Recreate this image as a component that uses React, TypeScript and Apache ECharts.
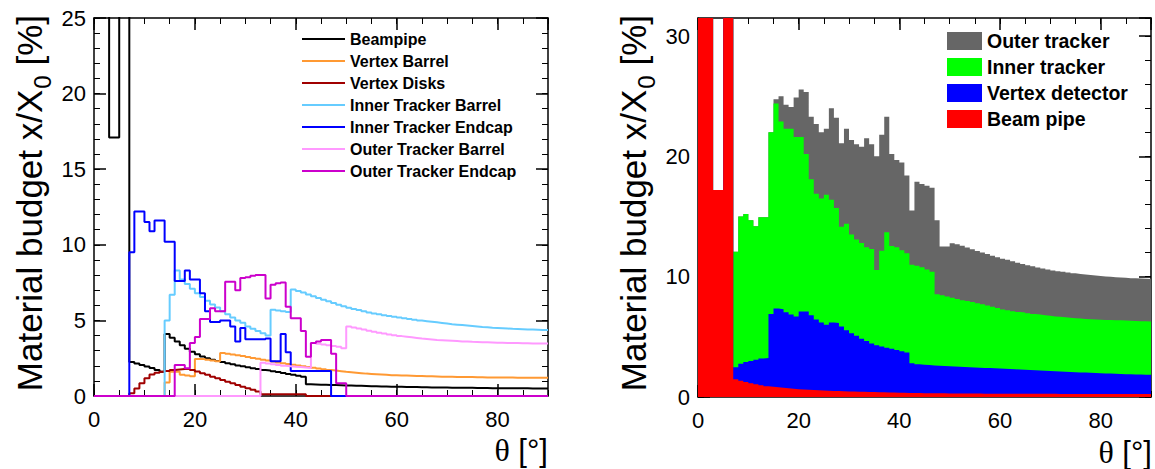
import React, { useEffect, useRef } from 'react';
import * as echarts from 'echarts';

// ---------- DATA (1 degree bins, theta 0..90) ----------
const binEdges = [0, 90];

const leftNames = ['Beampipe', 'Vertex Barrel', 'Vertex Disks', 'Inner Tracker Barrel', 'Inner Tracker Endcap', 'Outer Tracker Barrel', 'Outer Tracker Endcap'];
const leftColors = ['#000000', '#ff9933', '#a00000', '#66ccff', '#0000ff', '#ff99ff', '#cc00cc'];

const beampipe = [
  40, 40, 40, 17.1, 17.1, 40, 40, 2.25, 2.15, 2.05,
  1.95, 1.85, 1.72, 1.6, 4.1, 3.85, 3.6, 3.35, 3.12, 2.92,
  2.76, 2.62, 2.5, 2.4, 2.32, 2.25, 2.17, 2.1, 2.02, 1.96,
  1.9, 1.84, 1.78, 1.72, 1.68, 1.63, 1.58, 1.52, 1.46, 1.4,
  1.34, 1.28, 0.77, 0.76, 0.75, 0.74, 0.73, 0.72, 0.71, 0.7,
  0.69, 0.68, 0.67, 0.66, 0.65, 0.64, 0.63, 0.63, 0.62, 0.61,
  0.61, 0.6, 0.6, 0.59, 0.58, 0.58, 0.57, 0.57, 0.56, 0.56,
  0.55, 0.55, 0.54, 0.54, 0.54, 0.53, 0.53, 0.53, 0.52, 0.52,
  0.52, 0.52, 0.51, 0.51, 0.51, 0.51, 0.5, 0.5, 0.5, 0.5,
];
const vertexBarrel = [
  0, 0, 0, 0, 0, 0, 0, 0, 0, 0,
  0, 0, 0, 0, 0.9, 1.6, 1.6, 1.4, 1.35, 1.3,
  2.45, 2.45, 2.4, 2.35, 2.3, 2.85, 2.8, 2.75, 2.7, 2.64,
  2.58, 2.52, 2.46, 2.4, 2.34, 2.28, 2.22, 2.17, 2.12, 2.07,
  2.02, 1.97, 1.92, 1.87, 1.82, 1.77, 1.72, 1.68, 1.64, 1.6,
  1.57, 1.54, 1.51, 1.48, 1.46, 1.44, 1.42, 1.4, 1.38, 1.37,
  1.36, 1.35, 1.34, 1.33, 1.32, 1.31, 1.3, 1.29, 1.28, 1.27,
  1.27, 1.26, 1.26, 1.25, 1.25, 1.24, 1.24, 1.23, 1.23, 1.23,
  1.22, 1.22, 1.22, 1.21, 1.21, 1.21, 1.21, 1.2, 1.2, 1.2,
];
const vertexDisks = [
  0, 0, 0, 0, 0, 0, 0, 0.18, 0.5, 0.84,
  1.17, 1.43, 1.54, 1.6, 1.66, 1.72, 1.76, 1.78, 1.78, 1.72,
  1.62, 1.5, 1.4, 1.28, 1.17, 1.06, 0.95, 0.84, 0.73, 0.62,
  0.52, 0.42, 0.3, 0.12, 0.12, 0.12, 0.12, 0.12, 0.12, 0.12,
  0.12, 0.12, 0, 0, 0, 0, 0, 0, 0, 0,
  0, 0, 0, 0, 0, 0, 0, 0, 0, 0,
  0, 0, 0, 0, 0, 0, 0, 0, 0, 0,
  0, 0, 0, 0, 0, 0, 0, 0, 0, 0,
  0, 0, 0, 0, 0, 0, 0, 0, 0, 0,
];
const innerBarrel = [
  0, 0, 0, 0, 0, 0, 0, 0, 0, 0,
  0, 0, 0, 0, 5.0, 6.7, 8.3, 7.7, 7.4, 7.1,
  6.8, 6.55, 6.3, 6.05, 5.85, 5.6, 5.4, 5.2, 5.0, 4.85,
  4.6, 4.45, 4.3, 4.15, 4.0, 5.7, 5.65, 5.6, 5.55, 7.05,
  6.95, 6.85, 6.72, 6.6, 6.48, 6.37, 6.26, 6.15, 6.04, 5.94,
  5.84, 5.76, 5.68, 5.6, 5.53, 5.46, 5.4, 5.34, 5.29, 5.24,
  5.19, 5.14, 5.09, 5.04, 4.99, 4.95, 4.91, 4.87, 4.83, 4.79,
  4.75, 4.72, 4.69, 4.66, 4.63, 4.6, 4.57, 4.55, 4.52, 4.5,
  4.48, 4.46, 4.44, 4.43, 4.42, 4.4, 4.39, 4.38, 4.37, 4.36,
];
const innerEndcap = [
  0, 0, 0, 0, 0, 0, 0, 9.5, 12.2, 12.2,
  11.5, 10.9, 11.6, 11.6, 10.2, 10.2, 7.6, 7.6, 8.3, 7.7,
  7.7, 6.8, 5.6, 4.9, 4.9, 5.0, 5.0, 4.6, 3.6, 4.5,
  3.75, 3.75, 3.75, 3.75, 3.8, 2.3, 2.3, 4.1, 2.9, 1.65,
  1.65, 1.65, 1.65, 1.65, 1.65, 1.65, 1.65, 0, 0, 0,
  0, 0, 0, 0, 0, 0, 0, 0, 0, 0,
  0, 0, 0, 0, 0, 0, 0, 0, 0, 0,
  0, 0, 0, 0, 0, 0, 0, 0, 0, 0,
  0, 0, 0, 0, 0, 0, 0, 0, 0, 0,
];
const outerBarrel = [
  0, 0, 0, 0, 0, 0, 0, 0, 0, 0,
  0, 0, 0, 0, 0, 0, 0, 0, 0, 0,
  0, 0, 0, 0, 0, 0, 0, 0, 0, 0,
  0, 0, 0, 2.2, 2.15, 2.1, 2.05, 2.0, 1.97, 1.94,
  1.91, 1.88, 1.85, 3.5, 3.45, 3.4, 3.35, 3.3, 3.25, 3.15,
  4.6, 4.53, 4.46, 4.39, 4.32, 4.25, 4.19, 4.13, 4.07, 4.01,
  3.96, 3.92, 3.88, 3.84, 3.8, 3.77, 3.74, 3.71, 3.69, 3.67,
  3.65, 3.63, 3.61, 3.6, 3.58, 3.57, 3.56, 3.55, 3.54, 3.53,
  3.52, 3.51, 3.5, 3.5, 3.49, 3.49, 3.48, 3.48, 3.48, 3.48,
];
const outerEndcap = [
  0, 0, 0, 0, 0, 0, 0, 0, 0, 0,
  0, 0, 0, 0, 0, 0, 2.05, 2.05, 1.83, 3.5,
  3.9, 5.1, 5.1, 5.8, 5.6, 5.6, 7.55, 7.55, 7.0, 7.8,
  7.85, 7.95, 8.0, 8.0, 6.45, 7.35, 7.45, 7.5, 5.9, 5.15,
  5.15, 4.3, 2.6, 3.5, 3.6, 3.7, 3.7, 2.8, 0.85, 0.85,
  0, 0, 0, 0, 0, 0, 0, 0, 0, 0,
  0, 0, 0, 0, 0, 0, 0, 0, 0, 0,
  0, 0, 0, 0, 0, 0, 0, 0, 0, 0,
  0, 0, 0, 0, 0, 0, 0, 0, 0, 0,
];

// Right panel: top of each stacked layer (cumulative)
const rightNames = ['Outer tracker', 'Inner tracker', 'Vertex detector', 'Beam pipe'];
const rightColors = ['#666666', '#00ff00', '#0000ff', '#ff0000'];

const outerTrackerTop = [
  40, 40, 40, 17.2, 17.2, 40, 40,
  12.07, 15.0, 15.2, 14.7, 14.2, 14.95, 14.95,
  22.0, 24.75, 25.0, 24.3, 24.1, 24.9, 25.55, 25.35, 23.3, 22.7,
  22.0, 22.3, 24.0, 23.2, 21.1, 22.3, 21.35, 21.0, 20.8, 21.5,
  21.0, 20.0, 21.8, 23.3, 20.2, 19.7, 19.5, 18.4, 15.5, 17.9,
  17.7, 17.55, 17.4, 14.7, 12.5, 12.5, 12.77, 12.7, 12.57, 12.42,
  12.27, 12.14, 12.0, 11.88, 11.75, 11.62, 11.5, 11.4, 11.28, 11.16,
  11.05, 10.96, 10.86, 10.77, 10.68, 10.6, 10.52, 10.46, 10.4, 10.34,
  10.28, 10.23, 10.18, 10.14, 10.1, 10.05, 10.02, 9.99, 9.96, 9.93,
  9.91, 9.88, 9.86, 9.84, 9.82, 9.81,
];
const innerTrackerTop = [
  40, 40, 40, 17.2, 17.2, 40, 40,
  12.07, 15.0, 15.2, 14.7, 14.2, 14.95, 14.95,
  22.0, 24.4, 22.9, 22.3, 22.3, 21.6, 21.6, 20.2, 18.1, 16.9,
  16.5, 16.8, 16.4, 15.7, 14.15, 14.4, 13.5, 13.1, 12.8, 12.45,
  12.3, 10.55, 12.16, 13.7, 12.55, 12.45, 12.2, 11.95, 11.0, 10.9,
  10.78, 10.6, 10.4, 8.55, 8.45, 8.35, 8.25, 8.15, 8.05, 7.98,
  7.9, 7.8, 7.7, 7.6, 7.5, 7.4, 7.28, 7.2, 7.13, 7.07,
  7.02, 6.96, 6.9, 6.85, 6.8, 6.75, 6.7, 6.66, 6.62, 6.58,
  6.55, 6.52, 6.49, 6.47, 6.45, 6.43, 6.41, 6.39, 6.38, 6.37,
  6.36, 6.34, 6.32, 6.3, 6.29, 6.28,
];
const vertexDetectorTop = [
  40, 40, 40, 17.2, 17.2, 40, 40,
  2.48, 2.76, 2.9, 3.0, 3.1, 3.2, 3.25,
  6.9, 7.35, 7.3, 7.05, 6.85, 6.7, 7.1, 7.1, 6.8, 6.45,
  6.2, 6.0, 6.2, 6.15, 5.85, 5.55, 5.3, 5.1, 4.85, 4.65,
  4.45, 4.3, 4.2, 4.1, 4.0, 3.9, 3.8, 3.7, 2.8,
  2.73, 2.68, 2.65, 2.62, 2.6, 2.58, 2.56, 2.54, 2.52, 2.5,
  2.48, 2.46, 2.44, 2.42, 2.4, 2.38, 2.36, 2.34, 2.32, 2.3,
  2.28, 2.26, 2.24, 2.22, 2.2, 2.18, 2.16, 2.14, 2.12, 2.1,
  2.08, 2.06, 2.04, 2.03, 2.01, 2.0, 1.98, 1.96, 1.95, 1.93,
  1.92, 1.9, 1.89, 1.88, 1.86, 1.85, 1.84,
];
const beamPipeTop = [
  40, 40, 40, 17.2, 17.2, 40, 40, 1.48, 1.36, 1.24,
  1.14, 1.05, 0.97, 0.9, 0.85, 0.8, 0.76, 0.72, 0.68, 0.65,
  0.62, 0.6, 0.58, 0.56, 0.54, 0.52, 0.5, 0.49, 0.48, 0.46,
  0.45, 0.44, 0.43, 0.42, 0.41, 0.4, 0.39, 0.38, 0.37, 0.36,
  0.35, 0.34, 0.33, 0.33, 0.32, 0.32, 0.31, 0.31, 0.31, 0.3,
  0.3, 0.3, 0.29, 0.29, 0.29, 0.29, 0.28, 0.28, 0.28, 0.28,
  0.27, 0.27, 0.27, 0.27, 0.27, 0.26, 0.26, 0.26, 0.26, 0.26,
  0.26, 0.25, 0.25, 0.25, 0.25, 0.25, 0.25, 0.25, 0.25, 0.25,
  0.24, 0.24, 0.24, 0.24, 0.24, 0.24, 0.24, 0.24, 0.24, 0.24,
];

const leftYMax = 25;
const rightYMax = 31.5;

// ---------- helpers ----------
const SANS = "'Liberation Sans', Arial, Helvetica, sans-serif";

function steps(vals: number[]) {
  const pts: number[][] = vals.map((v, i) => [binEdges[0] + i, v]);
  pts.push([binEdges[1], vals[vals.length - 1]]);
  return pts;
}

function measure(text: string, font: string): number {
  const c = document.createElement('canvas');
  const ctx = c.getContext('2d');
  if (!ctx) return text.length * 12;
  ctx.font = font;
  return ctx.measureText(text).width;
}

function axis(gridIndex: number, dim: 'x' | 'y', position: string, max: number, interval: number, tickLen: number, labels: boolean, line: boolean, showMax = false) {
  return {
    type: 'value',
    gridIndex,
    position,
    min: 0,
    max,
    interval,
    axisLine: { show: line, onZero: false, lineStyle: { color: '#000', width: 1.5 } },
    axisTick: { show: true, inside: true, length: tickLen, lineStyle: { color: '#000', width: tickLen > 8 ? 1.5 : 1 } },
    axisLabel: {
      show: labels,
      showMaxLabel: showMax,
      color: '#000',
      fontSize: 22,
      fontFamily: SANS,
      margin: dim === 'x' ? 12 : 8,
    },
    splitLine: { show: false },
    minorTick: { show: false },
  };
}

function yTitle(cx: number, topY: number) {
  const mainFont = `35px ${SANS}`;
  const subFont = `24px ${SANS}`;
  const tail = ' [%]';
  const wTail = measure(tail, mainFont);
  const wSub = measure('0', subFont);
  return {
    type: 'group',
    x: cx,
    y: topY,
    rotation: Math.PI / 2,
    children: [
      { type: 'text', x: 0, y: 0, style: { text: tail, font: mainFont, fill: '#000', align: 'right', verticalAlign: 'middle' } },
      { type: 'text', x: -wTail, y: 13, style: { text: '0', font: subFont, fill: '#000', align: 'right', verticalAlign: 'middle' } },
      { type: 'text', x: -wTail - wSub - 1, y: 0, style: { text: 'Material budget x/X', font: mainFont, fill: '#000', align: 'right', verticalAlign: 'middle' } },
    ],
  };
}

function thetaTitle(rightX: number, y: number) {
  return {
    type: 'text',
    x: rightX,
    y,
    style: {
      text: '{t|θ}{b| [°]}',
      fill: '#000',
      align: 'right',
      verticalAlign: 'middle',
      rich: {
        t: { font: `32px 'Liberation Serif', serif`, fill: '#000' },
        b: { font: `31px ${SANS}`, fill: '#000' },
      },
    },
  };
}

export default function App() {
  const ref = useRef<HTMLDivElement>(null);

  useEffect(() => {
    if (!ref.current) return;
    const chart = echarts.init(ref.current, undefined, { renderer: 'svg' });

    const leftData = [beampipe, vertexBarrel, vertexDisks, innerBarrel, innerEndcap, outerBarrel, outerEndcap];
    const rightData = [outerTrackerTop, innerTrackerTop, vertexDetectorTop, beamPipeTop];

    const xAxes = [];
    const yAxes = [];
    for (let g = 0; g < 2; g++) {
      const ymax = g === 0 ? leftYMax : rightYMax;
      const ymajor = g === 0 ? 5 : 10;
      const yminor = g === 0 ? 1 : 2;
      xAxes.push(axis(g, 'x', 'bottom', 90, 20, 12, true, true));
      xAxes.push(axis(g, 'x', 'bottom', 90, 5, 6, false, false));
      xAxes.push(axis(g, 'x', 'top', 90, 20, 12, false, true));
      xAxes.push(axis(g, 'x', 'top', 90, 5, 6, false, false));
      yAxes.push(axis(g, 'y', 'left', ymax, ymajor, 12, true, true, g === 0));
      yAxes.push(axis(g, 'y', 'left', ymax, yminor, 6, false, false));
      yAxes.push(axis(g, 'y', 'right', ymax, ymajor, 12, false, true));
      yAxes.push(axis(g, 'y', 'right', ymax, yminor, 6, false, false));
    }

    const series: any[] = [];
    leftNames.forEach((name, i) => {
      series.push({
        name,
        type: 'line',
        step: 'end',
        xAxisIndex: 0,
        yAxisIndex: 0,
        symbol: 'none',
        clip: true,
        data: steps(leftData[i]),
        lineStyle: { color: leftColors[i], width: 2 },
        itemStyle: { color: leftColors[i] },
      });
    });
    rightNames.forEach((name, i) => {
      series.push({
        name,
        type: 'line',
        step: 'end',
        xAxisIndex: 4,
        yAxisIndex: 4,
        symbol: 'none',
        clip: true,
        data: steps(rightData[i]),
        lineStyle: { color: rightColors[i], width: 0 },
        itemStyle: { color: rightColors[i] },
        areaStyle: { color: rightColors[i], opacity: 1 },
      });
    });

    chart.setOption({
      animation: false,
      backgroundColor: '#ffffff',
      textStyle: { fontFamily: SANS },
      grid: [
        { left: 94, top: 18, width: 454, height: 378 },
        { left: 698, top: 18, width: 453, height: 379 },
      ],
      xAxis: xAxes,
      yAxis: yAxes,
      legend: [
        {
          data: leftNames,
          orient: 'vertical',
          left: 302,
          top: 28,
          padding: 0,
          icon: 'rect',
          itemWidth: 43,
          itemHeight: 2,
          itemGap: 0,
          selectedMode: false,
          textStyle: { fontSize: 16, fontWeight: 'bold', fontFamily: SANS, color: '#000', lineHeight: 22 },
        },
        {
          data: rightNames,
          orient: 'vertical',
          left: 947,
          top: 28,
          padding: 0,
          icon: 'rect',
          itemWidth: 35,
          itemHeight: 18,
          itemGap: 0,
          selectedMode: false,
          textStyle: { fontSize: 19.5, fontWeight: 'bold', fontFamily: SANS, color: '#000', lineHeight: 26 },
        },
      ],
      graphic: [
        yTitle(29, 15),
        yTitle(633, 15),
        thetaTitle(548, 450),
        thetaTitle(1152, 452),
      ],
      series,
    });

    return () => chart.dispose();
  }, []);

  return <div ref={ref} style={{ position: 'fixed', left: 0, top: 0, width: 1155, height: 469 }} />;
}
